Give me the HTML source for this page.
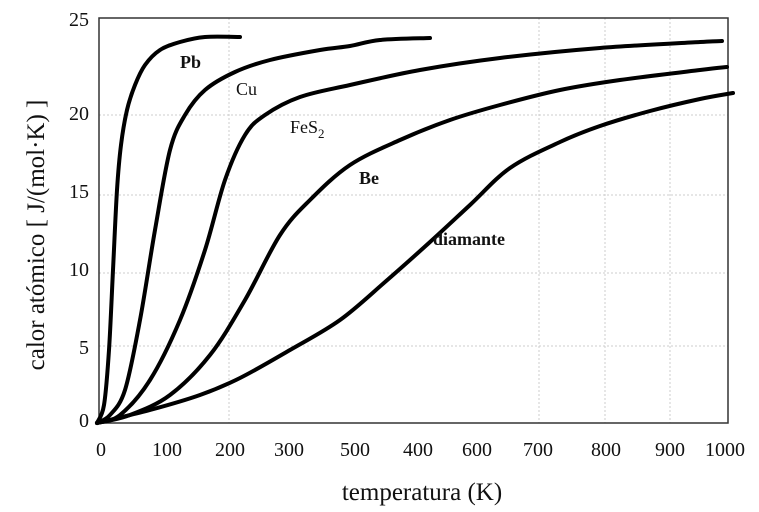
<!DOCTYPE html>
<html><head><meta charset="utf-8"><style>
html,body{margin:0;padding:0;background:#fff;}
svg{display:block;}
text{font-family:"Liberation Serif",serif;fill:#111;}
</style></head><body>
<svg id="s" width="759" height="512" viewBox="0 0 759 512" xmlns="http://www.w3.org/2000/svg">
<g stroke="#ccc" stroke-width="1" stroke-dasharray="2,2">
<line x1="229" y1="18" x2="229" y2="423"/>
<line x1="539" y1="18" x2="539" y2="423"/>
<line x1="605" y1="18" x2="605" y2="423"/>
<line x1="670" y1="18" x2="670" y2="423"/>
<line x1="99" y1="115" x2="728" y2="115"/>
<line x1="99" y1="195" x2="728" y2="195"/>
<line x1="99" y1="273" x2="728" y2="273"/>
<line x1="99" y1="346" x2="728" y2="346"/>
</g>
<rect x="99" y="18" width="629" height="405" fill="none" stroke="#333" stroke-width="1.5"/>
<g font-size="20" text-anchor="end">
<text x="89" y="26">25</text>
<text x="89" y="120">20</text>
<text x="89" y="198">15</text>
<text x="89" y="276">10</text>
<text x="89" y="354">5</text>
<text x="89" y="427">0</text>
</g>
<g font-size="20" text-anchor="middle">
<text x="101" y="456">0</text>
<text x="167" y="456">100</text>
<text x="230" y="456">200</text>
<text x="289" y="456">300</text>
<text x="355" y="456">500</text>
<text x="418" y="456">400</text>
<text x="477" y="456">600</text>
<text x="538" y="456">700</text>
<text x="606" y="456">800</text>
<text x="670" y="456">900</text>
<text x="725" y="456">1000</text>
</g>
<text x="422" y="500" font-size="25" text-anchor="middle">temperatura (K)</text>
<text transform="translate(44,235) rotate(-90)" font-size="25" text-anchor="middle">calor atómico  [ J/(mol·K) ]</text>
<g id="curves" fill="none" stroke="#000" stroke-width="4" stroke-linejoin="round" stroke-linecap="round"></g>
<g font-size="18">
<text x="180" y="68" font-weight="bold">Pb</text>
<text x="236" y="95">Cu</text>
<text x="290" y="133">FeS<tspan font-size="13" dy="5">2</tspan></text>
<text x="359" y="184" font-weight="bold">Be</text>
<text x="433" y="245" font-weight="bold">diamante</text>
</g>
</svg>
<script>
var data=[
[97,423,104,405,109,350,113,270,117,190,121,145,127,110,135,85,145,65,160,50,180,42,205,37,240,37],
[97,423,110,415,125,390,140,320,155,230,170,150,185,115,205,90,235,72,270,60,320,50,350,46,380,40,430,38],
[97,423,120,415,150,380,180,320,205,250,225,180,245,135,265,115,300,97,350,85,420,70,500,58,600,48,700,42,722,41],
[97,423,130,415,170,395,210,355,245,300,280,235,310,200,350,165,400,140,450,120,500,105,560,90,620,80,700,70,727,67],
[97,423,150,410,200,395,240,378,290,350,340,320,385,282,430,242,470,205,510,168,560,142,600,126,650,111,700,99,733,93]];
var g=document.getElementById('curves');
data.forEach(function(a){
 var p=[];for(var i=0;i<a.length;i+=2)p.push([a[i],a[i+1]]);
 var d='M'+p[0][0]+','+p[0][1];
 for(var i=0;i<p.length-1;i++){
  var p0=p[i-1]||p[i],p1=p[i],p2=p[i+1],p3=p[i+2]||p2;
  var c1x=p1[0]+(p2[0]-p0[0])/6,c1y=p1[1]+(p2[1]-p0[1])/6;
  var c2x=p2[0]-(p3[0]-p1[0])/6,c2y=p2[1]-(p3[1]-p1[1])/6;
  d+=' C'+c1x+','+c1y+' '+c2x+','+c2y+' '+p2[0]+','+p2[1];
 }
 var el=document.createElementNS('http://www.w3.org/2000/svg','path');
 el.setAttribute('d',d);g.appendChild(el);
});
</script>
</body></html>
